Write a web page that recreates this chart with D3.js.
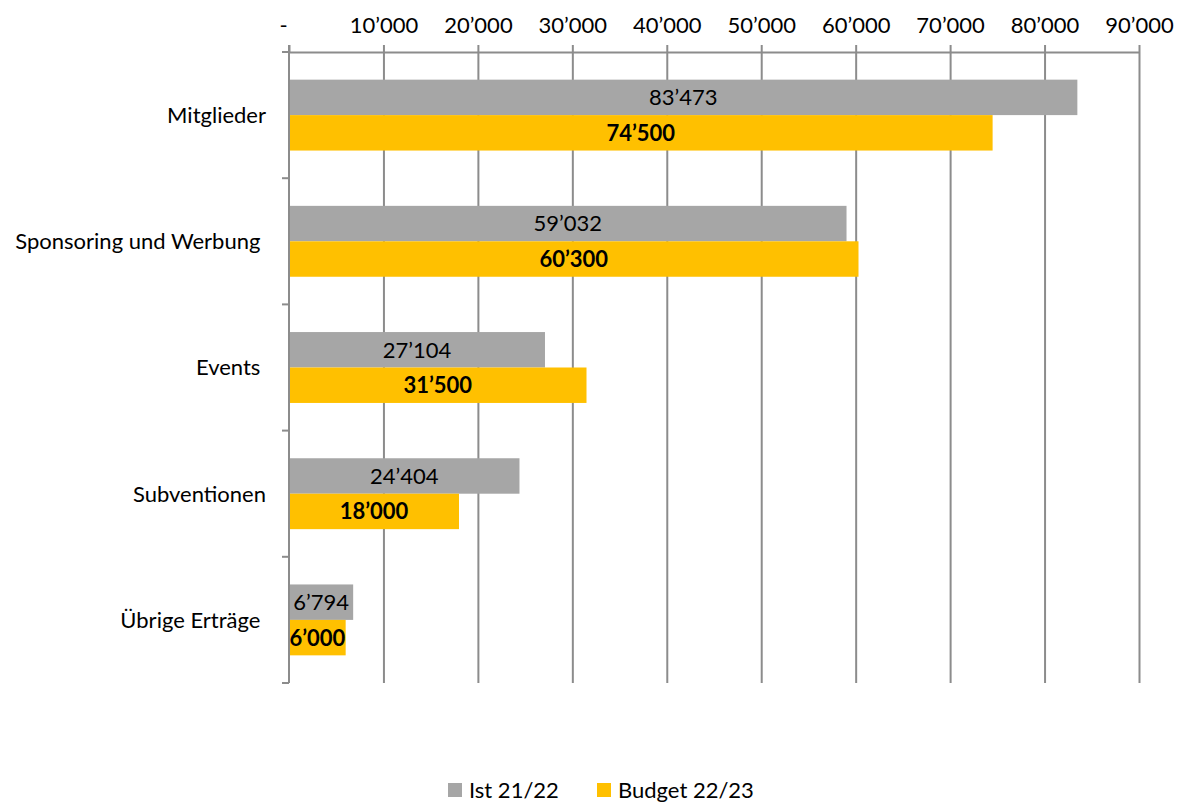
<!DOCTYPE html>
<html>
<head>
<meta charset="utf-8">
<script src="https://cdn.jsdelivr.net/npm/d3@7"></script>
<style>
  body { margin: 0; background: #fff; }
  svg text { font-family: Lato, "Open Sans", sans-serif; fill: #000; }
</style>
</head>
<body>
<svg id="chart" width="1180" height="805"></svg>
<script>
const categories = ['Mitglieder', 'Sponsoring und Werbung ', 'Events ', 'Subventionen', 'Übrige Erträge '];
const series = ['Ist 21/22', 'Budget 22/23'];
const ist = [83473, 59032, 27104, 24404, 6794];
const budget = [74500, 60300, 31500, 18000, 6000];
const xTicks = [0, 10000, 20000, 30000, 40000, 50000, 60000, 70000, 80000, 90000];
const colors = ['#a6a6a6', '#ffc000'];

const locale = d3.formatLocale({ decimal: '.', thousands: '\u2019', grouping: [3], currency: ['', ''] });
const fmt = locale.format(',');
const fs = 22;

let svg = d3.select('#chart');

let x = d3.scaleLinear()
	.domain([0, 90000])
	.range([289, 1139]);

let y = d3.scaleBand()
	.domain(categories)
	.range([52, 683]);

let ySub = d3.scaleBand()
	.domain(series)
	.range([0, y.bandwidth()])
	.paddingOuter(0.78);

// gridlines
svg.append('g')
	.attr('class', 'grid')
	.attr('transform', 'translate(0,52)')
	.call(d3.axisTop(x).tickValues(xTicks.slice(1)).tickSize(-(683 - 52)).tickFormat(''))
	.call(g => g.select('.domain').remove())
	.selectAll('line')
	.attr('stroke', '#8c8c8c')
	.attr('stroke-width', 2);

// top axis
let xAxis = svg.append('g')
	.attr('transform', 'translate(0,52)')
	.call(d3.axisTop(x).tickValues(xTicks).tickSize(7).tickSizeOuter(0).tickPadding(12)
		.tickFormat(d => d === 0 ? '-' : fmt(d)));
xAxis.select('.domain').attr('stroke', '#8c8c8c').attr('stroke-width', 2);
xAxis.selectAll('line').attr('stroke', '#8c8c8c').attr('stroke-width', 2);
xAxis.selectAll('text')
	.attr('font-size', fs)
	.attr('dx', d => d === 0 ? -6 : 0);

let rows = categories.map((c, i) => ({ cat: c, values: [ist[i], budget[i]] }));

let groups = svg.append('g')
	.selectAll('g')
	.data(rows)
	.enter()
	.append('g')
	.attr('transform', d => 'translate(0,' + y(d.cat) + ')');

groups.selectAll('rect')
	.data(d => d.values.map((v, j) => ({ s: series[j], v: v, j: j })))
	.enter()
	.append('rect')
	.attr('x', x(0))
	.attr('y', d => ySub(d.s))
	.attr('width', d => x(d.v) - x(0))
	.attr('height', ySub.bandwidth())
	.attr('fill', d => colors[d.j]);

groups.selectAll('text.val')
	.data(d => d.values.map((v, j) => ({ s: series[j], v: v, j: j })))
	.enter()
	.append('text')
	.attr('class', 'val')
	.attr('x', d => (x(0) + x(d.v)) / 2)
	.attr('y', d => ySub(d.s) + ySub.bandwidth() / 2)
	.attr('dy', '0.36em')
	.attr('text-anchor', 'middle')
	.attr('font-size', fs)
	.attr('font-weight', d => d.j === 1 ? 'bold' : 'normal')
	.text(d => fmt(d.v));

// left axis
let bounds = categories.map(c => y(c)).concat([y.range()[1]]);
let yAxis = svg.append('g');
yAxis.append('line')
	.attr('x1', x(0)).attr('x2', x(0))
	.attr('y1', 45).attr('y2', 683)
	.attr('stroke', '#8c8c8c').attr('stroke-width', 2);
yAxis.selectAll('line.tick')
	.data(bounds)
	.enter()
	.append('line')
	.attr('class', 'tick')
	.attr('x1', x(0) - 7).attr('x2', x(0))
	.attr('y1', d => d).attr('y2', d => d)
	.attr('stroke', '#8c8c8c').attr('stroke-width', 2);
yAxis.selectAll('text')
	.data(categories)
	.enter()
	.append('text')
	.attr('x', 266)
	.attr('y', d => y(d) + y.bandwidth() / 2)
	.attr('dy', '0.36em')
	.attr('text-anchor', 'end')
	.attr('font-size', fs)
	.style('white-space', 'pre')
	.text(d => d);

// legend
let legendX = [448, 597];
let legend = svg.append('g')
	.selectAll('g')
	.data(series)
	.enter()
	.append('g')
	.attr('transform', (d, i) => 'translate(' + legendX[i] + ',783)');
legend.append('rect')
	.attr('width', 14).attr('height', 14)
	.attr('fill', (d, i) => colors[i]);
legend.append('text')
	.attr('x', 21)
	.attr('y', 7)
	.attr('dy', '0.36em')
	.attr('font-size', fs)
	.text(d => d);
</script>
</body>
</html>
